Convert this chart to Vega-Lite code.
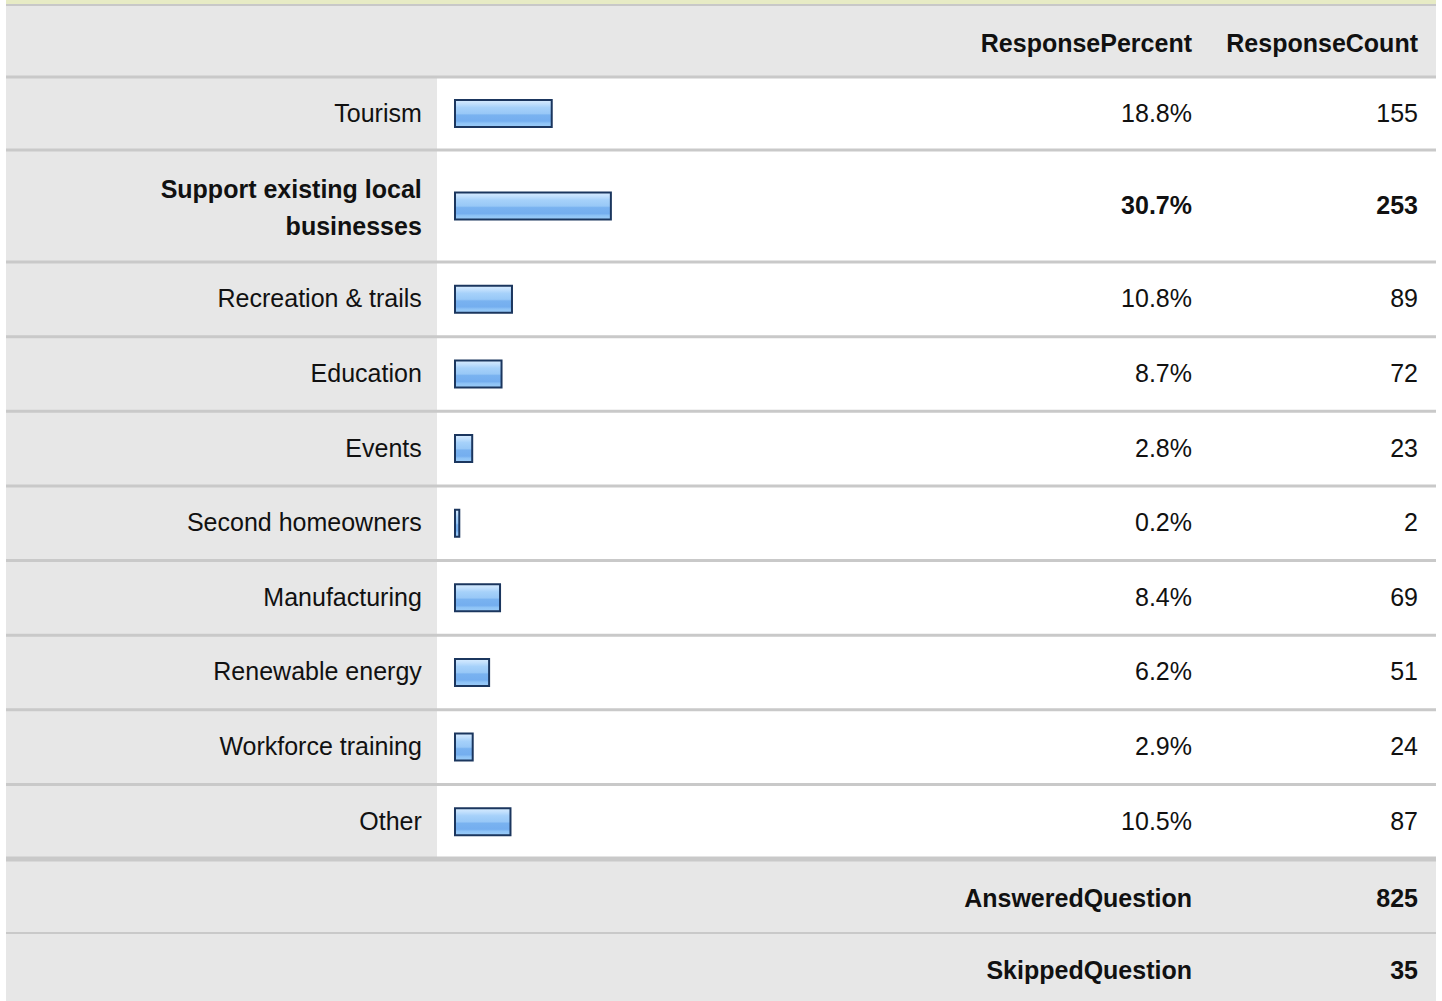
{
  "$schema": "https://vega.github.io/schema/vega-lite/v6.json",
  "padding": 0,
  "spacing": 0,
  "bounds": "flush",
  "background": "white",
  "config": {
    "view": {"stroke": null},
    "concat": {"spacing": 0},
    "text": {"font": "Liberation Sans", "fontSize": 25, "color": "#111111", "baseline": "middle"}
  },
  "datasets": {
    "answers": [
      {"answer": "Tourism", "label": "Tourism", "pct": 0.188, "count": 155},
      {"answer": "Support existing local businesses", "label": "Support existing local\nbusinesses", "pct": 0.307, "count": 253},
      {"answer": "Recreation & trails", "label": "Recreation & trails", "pct": 0.108, "count": 89},
      {"answer": "Education", "label": "Education", "pct": 0.087, "count": 72},
      {"answer": "Events", "label": "Events", "pct": 0.028, "count": 23},
      {"answer": "Second homeowners", "label": "Second homeowners", "pct": 0.002, "count": 2},
      {"answer": "Manufacturing", "label": "Manufacturing", "pct": 0.084, "count": 69},
      {"answer": "Renewable energy", "label": "Renewable energy", "pct": 0.062, "count": 51},
      {"answer": "Workforce training", "label": "Workforce training", "pct": 0.029, "count": 24},
      {"answer": "Other", "label": "Other", "pct": 0.105, "count": 87}
    ],
    "header": [
      {"answer": "Header", "pctHead": "ResponsePercent", "countHead": "ResponseCount"}
    ],
    "summary": [
      {"answer": "AnsweredQuestion", "value": 825},
      {"answer": "SkippedQuestion", "value": 35}
    ]
  },
  "vconcat": [
    {
      "width": 1442,
      "height": 77,
      "data": {"name": "header"},
      "encoding": {
        "y": {"field": "answer", "type": "nominal", "sort": null, "axis": null, "scale": {"paddingInner": 0, "paddingOuter": 0.04225, "align": 1}}
      },
      "layer": [
        {
          "mark": {"type": "rect", "color": "#e7ebc5"},
          "encoding": {
            "y": {"field": "answer", "type": "nominal", "bandPosition": 0, "sort": null, "axis": null},
            "y2": {"value": 0},
            "x": {"datum": -0.91006, "type": "quantitative", "axis": null, "scale": {"domain": [-0.92213, 1.97928], "nice": false, "zero": false}},
            "x2": {"datum": 1.9672}
          }
        },
        {
          "mark": {"type": "rule", "color": "#c8c8c8", "strokeWidth": 4},
          "encoding": {
            "y": {"field": "answer", "type": "nominal", "bandPosition": 0, "sort": null, "axis": null},
            "x": {"datum": -0.91006, "type": "quantitative", "axis": null},
            "x2": {"datum": 1.9672}
          }
        },
        {
          "mark": {"type": "rect", "color": "#e7e7e7"},
          "encoding": {
            "x": {"datum": -0.91006, "type": "quantitative", "axis": null},
            "x2": {"datum": 1.9672}
          }
        },
        {
          "mark": {"type": "text", "align": "right", "fontWeight": "bold", "dy": 3},
          "encoding": {
            "x": {"datum": 1.47626, "type": "quantitative", "axis": null},
            "text": {"field": "pctHead"}
          }
        },
        {
          "mark": {"type": "text", "align": "right", "fontWeight": "bold", "dy": 3},
          "encoding": {
            "x": {"datum": 1.93099, "type": "quantitative", "axis": null},
            "text": {"field": "countHead"}
          }
        }
      ]
    },
    {
      "width": 1442,
      "height": 73,
      "data": {"name": "answers"},
      "transform": [{"filter": {"field": "answer", "oneOf": ["Tourism"]}}],
      "encoding": {
        "y": {"field": "answer", "type": "nominal", "sort": null, "axis": null, "scale": {"paddingInner": 0, "paddingOuter": 0}}
      },
      "layer": [
        {
          "mark": {"type": "rect", "color": "#e7e7e7"},
          "encoding": {
            "x": {"datum": -0.91006, "type": "quantitative", "axis": null, "scale": {"domain": [-0.92213, 1.97928], "nice": false, "zero": false}},
            "x2": {"datum": -0.04286}
          }
        },
        {
          "mark": {"type": "rule", "color": "#c9c9c9", "strokeWidth": 3},
          "encoding": {
            "y": {"field": "answer", "type": "nominal", "bandPosition": 0, "sort": null, "axis": null},
            "x": {"datum": -0.91006, "type": "quantitative", "axis": null},
            "x2": {"datum": 1.9672}
          }
        },
        {
          "mark": {"type": "text", "align": "right"},
          "encoding": {
            "x": {"datum": -0.07344, "type": "quantitative", "axis": null},
            "text": {"field": "label"}
          }
        },
        {
          "mark": {
            "type": "bar", "height": 27, "stroke": "#1b365e", "strokeWidth": 2,
            "fill": {"gradient": "linear", "x1": 0, "y1": 0, "x2": 0, "y2": 1, "stops": [
              {"offset": 0, "color": "#d8ecff"}, {"offset": 0.14, "color": "#c2e0fd"}, {"offset": 0.28, "color": "#a6d1fa"},
              {"offset": 0.5, "color": "#98c8f7"}, {"offset": 0.56, "color": "#79b2f0"}, {"offset": 0.78, "color": "#74aeef"},
              {"offset": 0.86, "color": "#8ec3f6"}, {"offset": 1, "color": "#9bccf8"}]}
          },
          "encoding": {
            "x": {"field": "pct", "type": "quantitative", "axis": null},
            "x2": {"datum": -0.00664}
          }
        },
        {
          "mark": {"type": "text", "align": "right"},
          "encoding": {
            "x": {"datum": 1.47626, "type": "quantitative", "axis": null},
            "text": {"field": "pct", "format": ".1%"}
          }
        },
        {
          "mark": {"type": "text", "align": "right"},
          "encoding": {
            "x": {"datum": 1.93099, "type": "quantitative", "axis": null},
            "text": {"field": "count"}
          }
        }
      ]
    },
    {
      "width": 1442,
      "height": 112,
      "data": {"name": "answers"},
      "transform": [{"filter": {"field": "answer", "oneOf": ["Support existing local businesses"]}}],
      "encoding": {
        "y": {"field": "answer", "type": "nominal", "sort": null, "axis": null, "scale": {"paddingInner": 0, "paddingOuter": 0}}
      },
      "layer": [
        {
          "mark": {"type": "rect", "color": "#e7e7e7"},
          "encoding": {
            "x": {"datum": -0.91006, "type": "quantitative", "axis": null, "scale": {"domain": [-0.92213, 1.97928], "nice": false, "zero": false}},
            "x2": {"datum": -0.04286}
          }
        },
        {
          "mark": {"type": "rule", "color": "#c9c9c9", "strokeWidth": 3},
          "encoding": {
            "y": {"field": "answer", "type": "nominal", "bandPosition": 0, "sort": null, "axis": null},
            "x": {"datum": -0.91006, "type": "quantitative", "axis": null},
            "x2": {"datum": 1.9672}
          }
        },
        {
          "mark": {"type": "text", "align": "right", "fontWeight": "bold", "lineBreak": "\n", "lineHeight": 37, "dy": -16},
          "encoding": {
            "x": {"datum": -0.07344, "type": "quantitative", "axis": null},
            "text": {"field": "label"}
          }
        },
        {
          "mark": {
            "type": "bar", "height": 27, "stroke": "#1b365e", "strokeWidth": 2,
            "fill": {"gradient": "linear", "x1": 0, "y1": 0, "x2": 0, "y2": 1, "stops": [
              {"offset": 0, "color": "#d8ecff"}, {"offset": 0.14, "color": "#c2e0fd"}, {"offset": 0.28, "color": "#a6d1fa"},
              {"offset": 0.5, "color": "#98c8f7"}, {"offset": 0.56, "color": "#79b2f0"}, {"offset": 0.78, "color": "#74aeef"},
              {"offset": 0.86, "color": "#8ec3f6"}, {"offset": 1, "color": "#9bccf8"}]}
          },
          "encoding": {
            "x": {"field": "pct", "type": "quantitative", "axis": null},
            "x2": {"datum": -0.00664}
          }
        },
        {
          "mark": {"type": "text", "align": "right", "fontWeight": "bold"},
          "encoding": {
            "x": {"datum": 1.47626, "type": "quantitative", "axis": null},
            "text": {"field": "pct", "format": ".1%"}
          }
        },
        {
          "mark": {"type": "text", "align": "right", "fontWeight": "bold"},
          "encoding": {
            "x": {"datum": 1.93099, "type": "quantitative", "axis": null},
            "text": {"field": "count"}
          }
        }
      ]
    },
    {
      "width": 1442,
      "height": 597,
      "data": {"name": "answers"},
      "transform": [{"filter": {"not": {"field": "answer", "oneOf": ["Tourism", "Support existing local businesses"]}}}],
      "encoding": {
        "y": {"field": "answer", "type": "nominal", "sort": null, "axis": null, "scale": {"paddingInner": 0, "paddingOuter": 0}}
      },
      "layer": [
        {
          "mark": {"type": "rect", "color": "#e7e7e7"},
          "encoding": {
            "x": {"datum": -0.91006, "type": "quantitative", "axis": null, "scale": {"domain": [-0.92213, 1.97928], "nice": false, "zero": false}},
            "x2": {"datum": -0.04286}
          }
        },
        {
          "mark": {"type": "rule", "color": "#c9c9c9", "strokeWidth": 3},
          "encoding": {
            "y": {"field": "answer", "type": "nominal", "bandPosition": 0, "sort": null, "axis": null},
            "x": {"datum": -0.91006, "type": "quantitative", "axis": null},
            "x2": {"datum": 1.9672}
          }
        },
        {
          "mark": {"type": "text", "align": "right"},
          "encoding": {
            "x": {"datum": -0.07344, "type": "quantitative", "axis": null},
            "text": {"field": "label"}
          }
        },
        {
          "mark": {
            "type": "bar", "height": 27, "stroke": "#1b365e", "strokeWidth": 2,
            "fill": {"gradient": "linear", "x1": 0, "y1": 0, "x2": 0, "y2": 1, "stops": [
              {"offset": 0, "color": "#d8ecff"}, {"offset": 0.14, "color": "#c2e0fd"}, {"offset": 0.28, "color": "#a6d1fa"},
              {"offset": 0.5, "color": "#98c8f7"}, {"offset": 0.56, "color": "#79b2f0"}, {"offset": 0.78, "color": "#74aeef"},
              {"offset": 0.86, "color": "#8ec3f6"}, {"offset": 1, "color": "#9bccf8"}]}
          },
          "encoding": {
            "x": {"field": "pct", "type": "quantitative", "axis": null},
            "x2": {"datum": -0.00664}
          }
        },
        {
          "mark": {"type": "text", "align": "right"},
          "encoding": {
            "x": {"datum": 1.47626, "type": "quantitative", "axis": null},
            "text": {"field": "pct", "format": ".1%"}
          }
        },
        {
          "mark": {"type": "text", "align": "right"},
          "encoding": {
            "x": {"datum": 1.93099, "type": "quantitative", "axis": null},
            "text": {"field": "count"}
          }
        }
      ]
    },
    {
      "width": 1442,
      "height": 74,
      "data": {"name": "summary"},
      "transform": [{"filter": {"field": "answer", "oneOf": ["AnsweredQuestion"]}}],
      "encoding": {
        "y": {"field": "answer", "type": "nominal", "sort": null, "axis": null, "scale": {"paddingInner": 0, "paddingOuter": 0}}
      },
      "layer": [
        {
          "mark": {"type": "rect", "color": "#e7e7e7"},
          "encoding": {
            "x": {"datum": -0.91006, "type": "quantitative", "axis": null, "scale": {"domain": [-0.92213, 1.97928], "nice": false, "zero": false}},
            "x2": {"datum": 1.9672}
          }
        },
        {
          "mark": {"type": "rule", "color": "#c9c9c9", "strokeWidth": 5},
          "encoding": {
            "y": {"field": "answer", "type": "nominal", "bandPosition": 0, "sort": null, "axis": null},
            "x": {"datum": -0.91006, "type": "quantitative", "axis": null},
            "x2": {"datum": 1.9672}
          }
        },
        {
          "mark": {"type": "text", "align": "right", "fontWeight": "bold", "dy": 3},
          "encoding": {
            "x": {"datum": 1.47626, "type": "quantitative", "axis": null},
            "text": {"field": "answer"}
          }
        },
        {
          "mark": {"type": "text", "align": "right", "fontWeight": "bold", "dy": 3},
          "encoding": {
            "x": {"datum": 1.93099, "type": "quantitative", "axis": null},
            "text": {"field": "value"}
          }
        }
      ]
    },
    {
      "width": 1442,
      "height": 68,
      "data": {"name": "summary"},
      "transform": [{"filter": {"field": "answer", "oneOf": ["SkippedQuestion"]}}],
      "encoding": {
        "y": {"field": "answer", "type": "nominal", "sort": null, "axis": null, "scale": {"paddingInner": 0, "paddingOuter": 0}}
      },
      "layer": [
        {
          "mark": {"type": "rect", "color": "#e7e7e7"},
          "encoding": {
            "x": {"datum": -0.91006, "type": "quantitative", "axis": null, "scale": {"domain": [-0.92213, 1.97928], "nice": false, "zero": false}},
            "x2": {"datum": 1.9672}
          }
        },
        {
          "mark": {"type": "rule", "color": "#c9c9c9", "strokeWidth": 2},
          "encoding": {
            "y": {"field": "answer", "type": "nominal", "bandPosition": 0, "sort": null, "axis": null},
            "x": {"datum": -0.91006, "type": "quantitative", "axis": null},
            "x2": {"datum": 1.9672}
          }
        },
        {
          "mark": {"type": "text", "align": "right", "fontWeight": "bold", "dy": 4},
          "encoding": {
            "x": {"datum": 1.47626, "type": "quantitative", "axis": null},
            "text": {"field": "answer"}
          }
        },
        {
          "mark": {"type": "text", "align": "right", "fontWeight": "bold", "dy": 4},
          "encoding": {
            "x": {"datum": 1.93099, "type": "quantitative", "axis": null},
            "text": {"field": "value"}
          }
        }
      ]
    }
  ]
}
